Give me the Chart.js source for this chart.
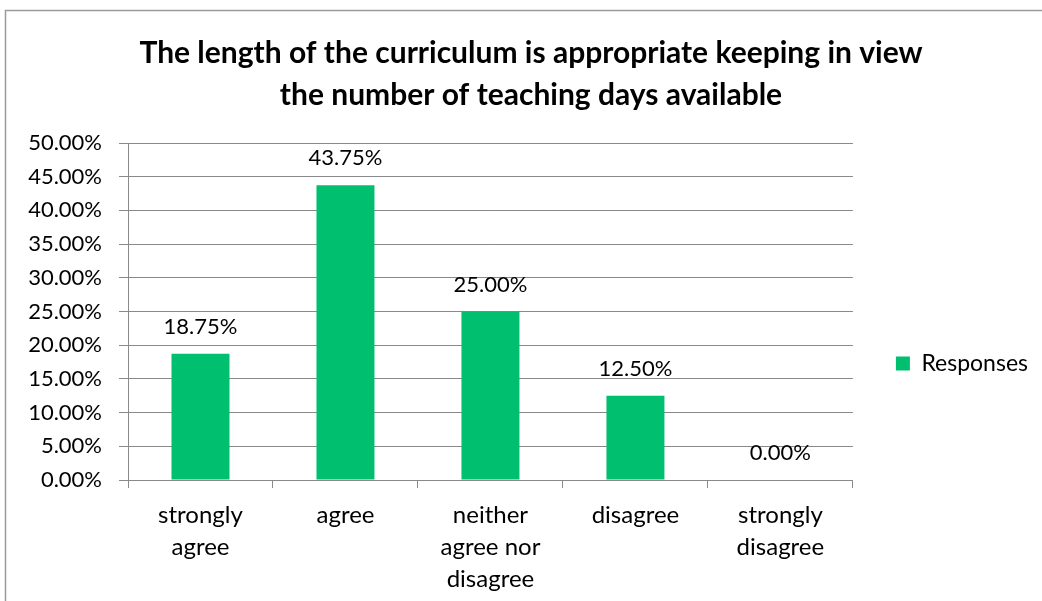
<!DOCTYPE html>
<html>
<head>
<meta charset="utf-8">
<script src="https://cdn.jsdelivr.net/npm/chart.js@4.4.0/dist/chart.umd.min.js"></script>
<style>
  html, body { margin: 0; padding: 0; background: #ffffff; }
  #wrap { width: 1042px; height: 601px; position: relative; }
</style>
</head>
<body>
<div id="wrap"><canvas id="c" width="1042" height="601"></canvas></div>
<script>
const titleLines = ["The length of the curriculum is appropriate keeping in view", "the number of teaching days available"];
const categories = [["strongly", "agree"], ["agree"], ["neither", "agree nor", "disagree"], ["disagree"], ["strongly", "disagree"]];
const seriesName = "Responses";
const responses = [18.75, 43.75, 25.00, 12.50, 0.00];
const yTicksMin = 0, yTicksMax = 50, yTicksStep = 5;

const FONT = "Lato, 'Open Sans', sans-serif";
const GRID = "#898989";
const GREEN = "#00bf6f";

const borderPlugin = {
  id: 'outerBorder',
  beforeDraw(chart) {
    const ctx = chart.ctx;
    ctx.save();
    ctx.fillStyle = '#ffffff';
    ctx.fillRect(0, 0, chart.width, chart.height);
    ctx.strokeStyle = '#9a9a9a';
    ctx.lineWidth = 1.5;
    ctx.beginPath();
    ctx.moveTo(5.5, chart.height + 5);
    ctx.lineTo(5.5, 10.5);
    ctx.lineTo(chart.width + 5, 10.5);
    ctx.stroke();
    ctx.restore();
  }
};

const valueLabels = {
  id: 'valueLabels',
  afterDatasetsDraw(chart) {
    const ctx = chart.ctx;
    ctx.save();
    ctx.font = "22px " + FONT;
    ctx.fillStyle = "#000";
    ctx.textAlign = "center";
    ctx.textBaseline = "middle";
    chart.data.datasets.forEach((ds, di) => {
      const meta = chart.getDatasetMeta(di);
      meta.data.forEach((el, i) => {
        ctx.fillText(ds.data[i].toFixed(2) + "%", el.x, el.y - 27);
      });
    });
    ctx.restore();
  }
};

new Chart(document.getElementById('c'), {
  type: 'bar',
  data: {
    labels: categories,
    datasets: [{
      label: seriesName,
      data: responses,
      backgroundColor: GREEN,
      borderWidth: 0,
      categoryPercentage: 1.0,
      barPercentage: 0.4
    }]
  },
  options: {
    responsive: false,
    animation: false,
    devicePixelRatio: 1,
    layout: { padding: { left: 24, right: 4, top: 0, bottom: -5 } },
    plugins: {
      title: {
        display: true,
        text: titleLines,
        color: "#000",
        font: { family: FONT, size: 30, weight: 'bold', lineHeight: 1.4 },
        padding: { top: 32, bottom: 27 }
      },
      legend: {
        display: true,
        position: 'right',
        align: 'start',
        title: {
          display: true,
          text: ' ',
          font: { size: 1, lineHeight: 1 },
          padding: { top: 308, bottom: 0 }
        },
        labels: {
          color: "#000",
          font: { family: FONT, size: 23 },
          boxWidth: 14,
          boxHeight: 14,
          padding: 43
        }
      },
      tooltip: { enabled: false }
    },
    scales: {
      x: {
        offset: true,
        grid: {
          offset: true,
          display: true,
          drawOnChartArea: false,
          drawTicks: true,
          tickLength: 8,
          color: GRID
        },
        border: { display: true, color: GRID },
        ticks: {
          color: "#000",
          font: { family: FONT, size: 24, lineHeight: 1.3333 },
          padding: 11,
          maxRotation: 0,
          autoSkip: false
        }
      },
      y: {
        min: yTicksMin,
        max: yTicksMax,
        grid: { color: GRID, tickLength: 9, drawTicks: true },
        border: { display: true, color: GRID },
        ticks: {
          stepSize: yTicksStep,
          color: "#000",
          font: { family: FONT, size: 22 },
          padding: 17,
          callback: (v) => Number(v).toFixed(2) + "%"
        },
        afterFit(scale) { scale.width = 104; }
      }
    }
  },
  plugins: [borderPlugin, valueLabels]
});
</script>
</body>
</html>
